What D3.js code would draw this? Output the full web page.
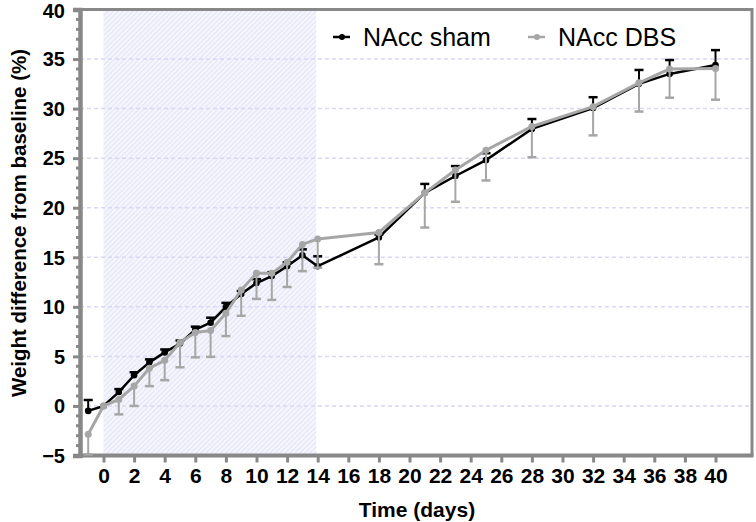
<!DOCTYPE html>
<html><head><meta charset="utf-8">
<script src="https://cdn.jsdelivr.net/npm/d3@7"></script>
<style>body{margin:0;background:#fff}svg{display:block}</style>
</head><body>
<svg id="c" width="756" height="522"></svg>
<script>
const days = [-1,0,1,2,3,4,5,6,7,8,9,10,11,12,13,14,18,21,23,25,28,32,35,37,40];
const shamMean = [-0.5,0,1.4,3.1,4.4,5.4,6.3,7.7,8.4,10.0,11.3,12.4,13.1,14.1,15.2,14.1,17.0,21.5,23.2,24.8,27.95,30.05,32.5,33.5,34.4];
const shamErr  = [1.1,0,0.3,0.3,0.3,0.3,0.3,0.3,0.5,0.4,0.3,0.4,0.4,0.4,0.6,1.0,0.3,0.9,1.0,0.7,1.0,1.1,1.4,1.4,1.5];
const dbsMean  = [-2.85,0,0.65,2.0,3.8,4.6,6.4,7.4,7.6,9.35,11.7,13.4,13.4,14.5,16.3,16.85,17.5,21.5,23.8,25.8,28.2,30.2,32.6,34.0,34.05];
const dbsErr   = [2.05,0,1.5,2.0,1.8,2.0,2.5,2.5,2.65,2.3,2.6,2.6,2.7,2.5,2.7,2.9,3.2,3.5,3.2,3.05,3.1,2.9,2.9,2.9,3.15];
const xTicks = d3.range(0,41,2);
const yTicks = [-5,0,5,10,15,20,25,30,35,40];
const stimPeriod = [0,14];
const seriesNames = ["NAcc sham","NAcc DBS"];

const svg = d3.select("#c");
const L=80, R=752, T=9.5, B=455.5;
const x = d3.scaleLinear().domain([0,40]).range([103.5,715.5]);
const y = d3.scaleLinear().domain([-5,40]).range([B,T]);

const defs = svg.append("defs");
const pat = defs.append("pattern").attr("id","hatch").attr("patternUnits","userSpaceOnUse")
  .attr("width",3.5).attr("height",3.5).attr("patternTransform","rotate(45)");
pat.append("rect").attr("width",3.5).attr("height",3.5).attr("fill","#f4f4fc");
pat.append("line").attr("x1",0).attr("y1",0).attr("x2",0).attr("y2",3.5).attr("stroke","#dcdcf3").attr("stroke-width",1.2);

// shaded stimulation period
svg.append("rect").attr("x",x(stimPeriod[0])).attr("y",T).attr("width",x(stimPeriod[1])-x(stimPeriod[0])-1.5)
  .attr("height",B-T).attr("fill","url(#hatch)");

// gridlines
svg.append("g").selectAll("line").data(yTicks.filter(v=>v>-5&&v<40)).join("line")
  .attr("x1",L).attr("x2",R).attr("y1",d=>y(d)).attr("y2",d=>y(d))
  .attr("stroke","#d8d8f4").attr("stroke-width",1.5).attr("stroke-dasharray","4,3");

// frame (top, right)
svg.append("path").attr("d",`M${L},${T}H${R}V${B}`).attr("fill","none").attr("stroke","#888").attr("stroke-width",3);

// y axis
const yAxis = d3.axisLeft(y).tickValues(yTicks).tickSize(7).tickPadding(8).tickFormat(d3.format("d"));
const gy = svg.append("g").attr("transform",`translate(${L},0)`).call(yAxis);
gy.select(".domain").attr("stroke","#888").attr("stroke-width",4.5);
gy.selectAll(".tick line").attr("stroke","#888").attr("stroke-width",3);
gy.selectAll("text").attr("font-family","Liberation Sans, Arial, sans-serif").attr("font-weight","bold").attr("font-size",20).attr("fill","#000")
  .attr("dy",d=>d===40?"0.42em":"0.34em");
// minor y ticks
svg.append("g").selectAll("line").data(d3.range(-5,41,1).filter(v=>v%5!==0)).join("line")
  .attr("x1",L-4).attr("x2",L).attr("y1",d=>y(d)).attr("y2",d=>y(d)).attr("stroke","#888").attr("stroke-width",3);

// x axis
const xAxis = d3.axisBottom(x).tickValues(xTicks).tickSize(7).tickPadding(6).tickSizeOuter(0);
const gx = svg.append("g").attr("transform",`translate(0,${B})`).call(xAxis);
gx.select(".domain").remove();
gx.append("line").attr("x1",L-2).attr("x2",R+1.5).attr("stroke","#888").attr("stroke-width",4);
gx.selectAll(".tick line").attr("stroke","#888").attr("stroke-width",3);
gx.selectAll("text").attr("font-family","Liberation Sans Narrow, Arial Narrow, sans-serif").attr("font-weight","bold").attr("font-size",21).attr("fill","#000");

// titles
svg.append("text").attr("x",417).attr("y",517).attr("text-anchor","middle")
  .attr("font-family","Liberation Sans Narrow, Arial Narrow, sans-serif").attr("font-weight","bold").attr("font-size",21).text("Time (days)");
svg.append("text").attr("transform","translate(26,223) rotate(-90)").attr("text-anchor","middle")
  .attr("font-family","Liberation Sans, Arial, sans-serif").attr("font-weight","bold").attr("font-size",20.5).text("Weight difference from baseline (%)");

const line = d3.line().x(d=>x(d[0])).y(d=>y(d[1]));
function drawSeries(means, errs, color, dir, lw, r){
  const g = svg.append("g");
  const pts = days.map((d,i)=>[d,means[i],errs[i]]);
  // error bars
  pts.filter(p=>p[2]>0).forEach(p=>{
    const y0=y(p[1]), y1=y(p[1]+dir*p[2]);
    g.append("line").attr("x1",x(p[0])).attr("x2",x(p[0])).attr("y1",y0).attr("y2",y1).attr("stroke",color).attr("stroke-width",2);
    g.append("line").attr("x1",x(p[0])-4.5).attr("x2",x(p[0])+4.5).attr("y1",y1).attr("y2",y1).attr("stroke",color).attr("stroke-width",2.5);
  });
  g.append("path").attr("d",line(pts)).attr("fill","none").attr("stroke",color).attr("stroke-width",lw).attr("stroke-linejoin","round");
  g.selectAll("circle").data(pts).join("circle").attr("cx",d=>x(d[0])).attr("cy",d=>y(d[1])).attr("r",r).attr("fill",color);
}
drawSeries(shamMean, shamErr, "#000", 1, 2.5, 3.3);
drawSeries(dbsMean, dbsErr, "#a6a6a6", -1, 3, 3.5);

// legend
const leg = svg.append("g");
[[seriesNames[0],"#000",333],[seriesNames[1],"#a6a6a6",528]].forEach(([name,col,lx])=>{
  leg.append("line").attr("x1",lx).attr("x2",lx+17).attr("y1",37).attr("y2",37).attr("stroke",col).attr("stroke-width",2.5);
  leg.append("circle").attr("cx",lx+9).attr("cy",37).attr("r",3).attr("fill",col);
  leg.append("text").attr("x",lx+30).attr("y",46).attr("font-family","Liberation Sans, Arial, sans-serif").attr("font-size",25).attr("fill","#000").text(name);
});
</script>
</body></html>
